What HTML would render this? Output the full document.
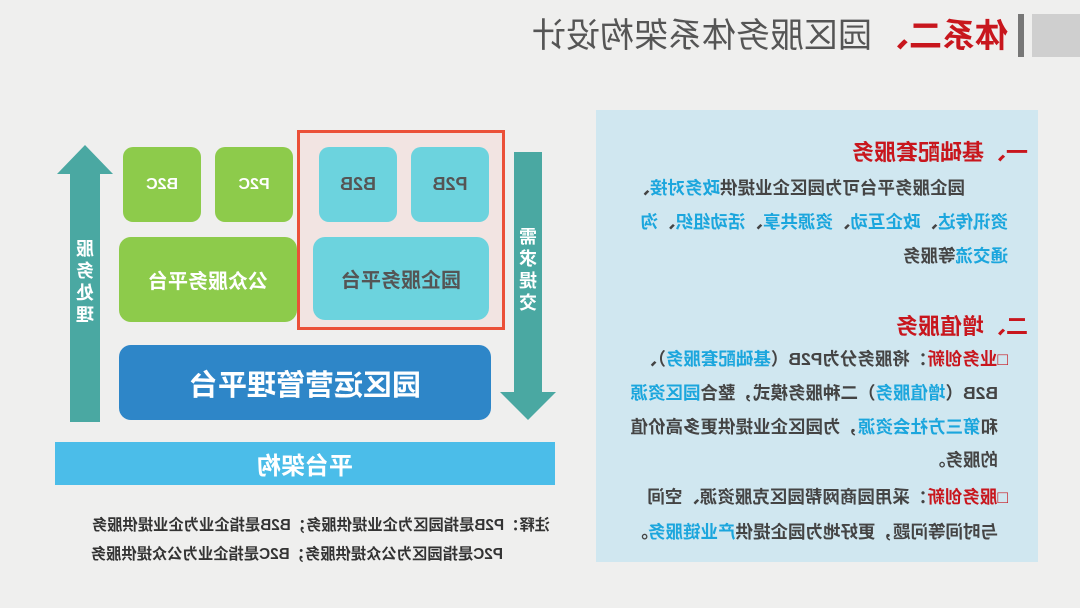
<!DOCTYPE html>
<html><head><meta charset="utf-8"><style>
*{margin:0;padding:0;box-sizing:border-box}
html,body{width:1080px;height:608px;overflow:hidden;background:#efefee}
#w{position:absolute;left:0;top:0;width:1080px;height:608px;transform:scaleX(-1);font-family:"Liberation Sans","Noto Sans CJK SC",sans-serif;font-weight:bold}
.a{position:absolute}
.c{display:flex;align-items:center;justify-content:center}
.r{color:#c8161d}.b{color:#1ba6dd}
.p{position:absolute;left:0;font-size:17.5px;color:#444;white-space:nowrap}
</style></head><body><div id="w">
<div class="a" style="left:0;top:14px;width:48px;height:43px;background:#cfcfcf"></div>
<div class="a" style="left:56px;top:14px;width:6px;height:43px;background:#777"></div>
<div class="a r" style="left:72px;top:15px;font-size:33px;line-height:42px">体系二、</div>
<div class="a" style="left:208px;top:15px;font-size:34px;line-height:42px;color:#555;font-weight:normal">园区服务体系架构设计</div>

<div class="a" style="left:42px;top:110px;width:442px;height:452px;background:#d0e7f0">
 <div class="a r" style="left:10px;top:25px;font-size:22px">一、基础配套服务</div>
 <div class="p" style="left:73px;top:65px">园企服务平台可为园区企业提供<span class="b">政务对接</span>、</div>
 <div class="p" style="left:30px;top:99px"><span class="b">资讯传达</span>、<span class="b">政企互动</span>、<span class="b">资源共享</span>、<span class="b">活动组织</span>、<span class="b">沟</span></div>
 <div class="p" style="left:30px;top:133px"><span class="b">通交流</span>等服务</div>
 <div class="a r" style="left:10px;top:199px;font-size:22px">二、增值服务</div>
 <div class="p" style="left:30px;top:236px"><span class="r">□业务创新</span>：将服务分为P2B（<span class="b">基础配套服务</span>）、</div>
 <div class="p" style="left:40px;top:270px">B2B（<span class="b">增值服务</span>）二种服务模式，整合<span class="b">园区资源</span></div>
 <div class="p" style="left:40px;top:304px">和<span class="b">第三方社会资源</span>，为园区企业提供更多高价值</div>
 <div class="p" style="left:40px;top:337px">的服务。</div>
 <div class="p" style="left:30px;top:374px"><span class="r">□服务创新</span>：采用园商网帮园区克服资源、空间</div>
 <div class="p" style="left:40px;top:409px">与时间等问题，更好地为园企提供<span class="b">产业链服务</span>。</div>
</div>

<div class="a" style="left:538px;top:152px;width:28px;height:242px;background:#4aa8a2"></div>
<div class="a" style="left:524px;top:392px;width:0;height:0;border-left:28px solid transparent;border-right:28px solid transparent;border-top:28px solid #4aa8a2"></div>
<div class="a" style="left:541px;top:226px;width:22px;font-size:18px;line-height:22px;color:#fff;text-align:center">需求提交</div>
<div class="a" style="left:980px;top:173px;width:30px;height:249px;background:#4aa8a2"></div>
<div class="a" style="left:967px;top:145px;width:0;height:0;border-left:28px solid transparent;border-right:28px solid transparent;border-bottom:29px solid #4aa8a2"></div>
<div class="a" style="left:984px;top:238px;width:22px;font-size:18px;line-height:22px;color:#fff;text-align:center">服务处理</div>

<div class="a" style="left:575px;top:130px;width:208px;height:200px;border:3px solid #eb5038;background:#f2e4e2"></div>
<div class="a c" style="left:591px;top:147px;width:78px;height:75px;background:#6cd3de;border-radius:10px;color:#555;font-size:18px">P2B</div>
<div class="a c" style="left:683px;top:147px;width:78px;height:75px;background:#6cd3de;border-radius:10px;color:#555;font-size:18px">B2B</div>
<div class="a c" style="left:591px;top:237px;width:176px;height:83px;background:#6cd3de;border-radius:12px;color:#555;font-size:20px">园企服务平台</div>
<div class="a c" style="left:787px;top:147px;width:78px;height:75px;background:#8dcb4b;border-radius:10px;color:#fff;font-size:16px">P2C</div>
<div class="a c" style="left:879px;top:147px;width:78px;height:75px;background:#8dcb4b;border-radius:10px;color:#fff;font-size:16px">B2C</div>
<div class="a c" style="left:783px;top:237px;width:178px;height:85px;background:#8dcb4b;border-radius:12px;color:#fff;font-size:20px">公众服务平台</div>
<div class="a c" style="left:589px;top:345px;width:372px;height:75px;background:#2e86c8;border-radius:12px;color:#fff;font-size:29px">园区运营管理平台</div>
<div class="a c" style="left:525px;top:442px;width:500px;height:43px;background:#4bbde9;color:#fff;font-size:24px">平台架构</div>
<div class="a" style="left:530px;top:513px;font-size:15.3px;color:#333;white-space:nowrap">注释：P2B是指园区为企业提供服务；B2B是指企业为企业提供服务</div>
<div class="a" style="left:577px;top:542px;font-size:15.3px;color:#333;white-space:nowrap">P2C是指园区为公众提供服务；B2C是指企业为公众提供服务</div>
</div></body></html>
